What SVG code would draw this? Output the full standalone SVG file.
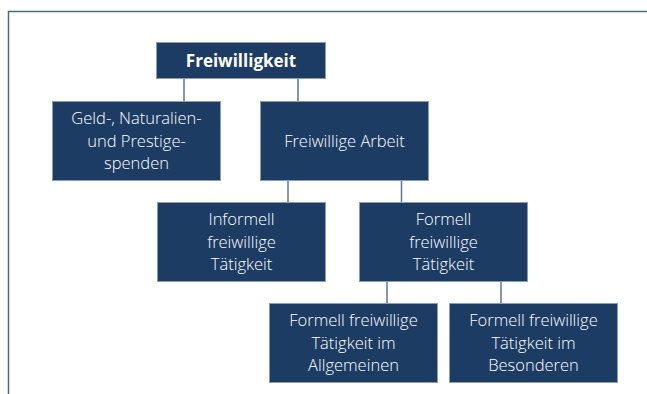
<svg xmlns="http://www.w3.org/2000/svg" width="647" height="394" viewBox="0 0 647 394">
<style>
.box{fill:#1c3c64;stroke:#8a9db8;stroke-width:1}
.t{font-family:"Open Sans","Noto Sans","DejaVu Sans",sans-serif;font-size:16.5px;font-weight:300;fill:#ffffff;text-anchor:middle}
.b{font-weight:bold;font-size:17px}
.c{stroke:#5b7496;stroke-width:1.5;fill:none}
</style>
<rect width="647" height="394" fill="#ffffff"/>
<path d="M8.5,394 V11.5 H647" fill="none" stroke="#4f6788" stroke-width="1.5"/>
<g id="connectors">
<path class="c" d="M184,79 V101"/>
<path class="c" d="M298,79 V101"/>
<path class="c" d="M288,181 V202"/>
<path class="c" d="M401.5,181 V202"/>
<path class="c" d="M387,282 V303"/>
<path class="c" d="M501,282 V303"/>
</g>
<g id="freiwilligkeit">
<rect class="box" x="156.5" y="42.5" width="169" height="36"/>
<text class="t b" x="241" y="66.5">Freiwilligkeit</text>
</g>
<g id="spenden">
<rect class="box" x="52.5" y="101.5" width="168" height="79"/>
<text class="t" x="136.5" y="124">Geld-, Naturalien-</text>
<text class="t" x="136.5" y="146.5">und Prestige-</text>
<text class="t" x="136.5" y="169">spenden</text>
</g>
<g id="arbeit">
<rect class="box" x="260.5" y="101.5" width="168" height="79"/>
<text class="t" x="344.5" y="147">Freiwillige Arbeit</text>
</g>
<g id="informell">
<rect class="box" x="157.5" y="202.5" width="168" height="79"/>
<text class="t" x="241.5" y="225">Informell</text>
<text class="t" x="241.5" y="247.5">freiwillige</text>
<text class="t" x="241.5" y="270">Tätigkeit</text>
</g>
<g id="formell">
<rect class="box" x="359.5" y="202.5" width="168" height="79"/>
<text class="t" x="443.5" y="225">Formell</text>
<text class="t" x="443.5" y="247.5">freiwillige</text>
<text class="t" x="443.5" y="270">Tätigkeit</text>
</g>
<g id="allgemeinen">
<rect class="box" x="269.5" y="303.5" width="168" height="79"/>
<text class="t" x="353.5" y="326">Formell freiwillige</text>
<text class="t" x="353.5" y="348.5">Tätigkeit im</text>
<text class="t" x="353.5" y="371">Allgemeinen</text>
</g>
<g id="besonderen">
<rect class="box" x="449.5" y="303.5" width="168" height="79"/>
<text class="t" x="533.5" y="326">Formell freiwillige</text>
<text class="t" x="533.5" y="348.5">Tätigkeit im</text>
<text class="t" x="533.5" y="371">Besonderen</text>
</g>
</svg>
